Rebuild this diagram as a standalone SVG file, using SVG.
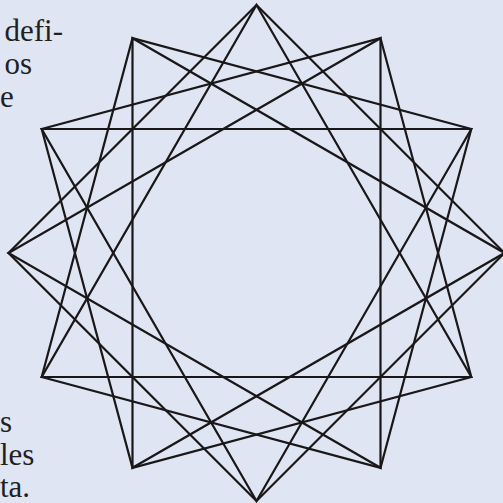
<svg xmlns="http://www.w3.org/2000/svg" width="503" height="503" viewBox="0 0 503 503">
  <style>
    .st { fill: none; stroke: #1a1718; stroke-width: 2.2; stroke-linejoin: miter; stroke-miterlimit: 10; }
    .tx { font-family: 'Liberation Serif', 'Times New Roman', 'DejaVu Serif', serif; font-size: 31px; fill: #231f20; }
  </style>
  <rect width="503" height="503" fill="#dfe5f3"/>
  <g id="text-left">
    <text class="tx" x="63" y="41" text-anchor="end">defi-</text>
    <text class="tx" x="32" y="74" text-anchor="end">os</text>
    <text class="tx" x="0" y="107">e</text>
    <text class="tx" x="0" y="432">s</text>
    <text class="tx" x="0" y="465">les</text>
    <text class="tx" x="0" y="497">ta.</text>
  </g>
  <g id="star">
    <g id="squares">
      <polygon class="st" points="256.5,5 504.5,253 256.5,501 8.5,253"/>
      <polygon class="st" points="380.5,38.2 471.3,377 132.5,467.8 41.7,129"/>
      <polygon class="st" points="471.3,129 380.5,467.8 41.7,377 132.5,38.2"/>
    </g>
    <g id="triangles">
      <polygon class="st" points="256.5,5 471.3,377 41.7,377"/>
      <polygon class="st" points="380.5,38.2 380.5,467.8 8.5,253"/>
      <polygon class="st" points="471.3,129 256.5,501 41.7,129"/>
      <polygon class="st" points="504.5,253 132.5,467.8 132.5,38.2"/>
    </g>
  </g>
</svg>
